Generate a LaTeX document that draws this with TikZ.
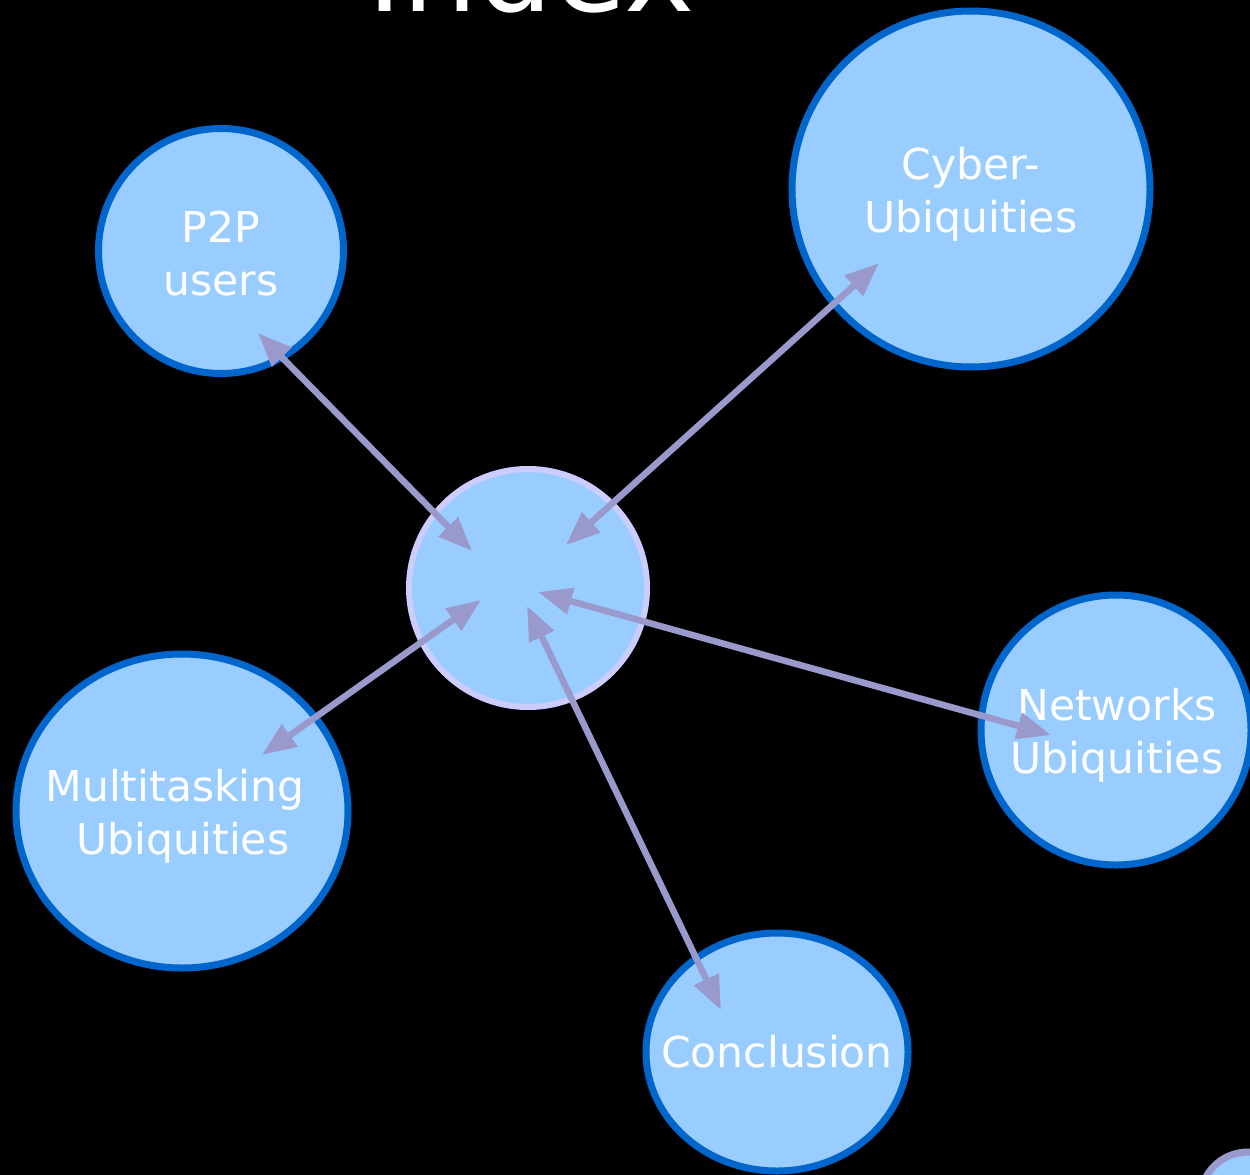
\documentclass[tikz,border=0pt]{standalone}
\usepackage{fontspec}
\setmainfont{DejaVu Sans}
\usetikzlibrary{arrows.meta}
\definecolor{fillblue}{HTML}{99CCFF}
\definecolor{edgeblue}{HTML}{0066CC}
\definecolor{lav}{HTML}{CCCCFF}
\definecolor{arr}{HTML}{9999CC}
\begin{document}
\begin{tikzpicture}[x=1pt,y=-1pt,
  lbl/.style={text=white, font=\fontsize{42.5}{53}\selectfont, align=center},
  link/.style={draw=arr, line width=6.5pt, {Triangle[length=34pt,width=26pt]}-{Triangle[length=34pt,width=26pt]}}]
\fill[black] (0,0) rectangle (1250,1175);
\useasboundingbox (0,0) rectangle (1250,1175);
% title
\node[anchor=base, text=white, font=\fontsize{119}{122}\selectfont, inner sep=0pt] (title) at (531,11) {Index};
% circles
\fill[fillblue] (221,251) ellipse [x radius=122.5, y radius=122.5];
\draw[edgeblue, line width=7pt] (221,251) ellipse [x radius=122.5, y radius=122.5];
\fill[fillblue] (971,189) ellipse [x radius=179, y radius=178];
\draw[edgeblue, line width=7pt] (971,189) ellipse [x radius=179, y radius=178];
\fill[fillblue] (528,588) ellipse [x radius=119, y radius=119];
\draw[lav, line width=6pt] (528,588) ellipse [x radius=119, y radius=119];
\fill[fillblue] (1116,730) ellipse [x radius=135, y radius=135];
\draw[edgeblue, line width=7pt] (1116,730) ellipse [x radius=135, y radius=135];
\fill[fillblue] (182,811) ellipse [x radius=166, y radius=157];
\draw[edgeblue, line width=7pt] (182,811) ellipse [x radius=166, y radius=157];
\fill[fillblue] (777,1052) ellipse [x radius=131, y radius=119];
\draw[edgeblue, line width=7pt] (777,1052) ellipse [x radius=131, y radius=119];
\fill[fillblue] (1248,1200) circle [radius=48];
\draw[arr, line width=7pt] (1248,1200) circle [radius=48];
% labels
\node[lbl] (p2p) at (221,254) {P2P\\users};
\node[lbl] (cyber) at (971,194) {Cyber-\\Ubiquities};
\node[lbl] (net) at (1117,735) {Networks\\Ubiquities};
\node[lbl] (multi) at (175,816) {Multitasking\\\hspace*{16pt}Ubiquities};
\node[lbl] (concl) at (777,1052) {Conclusion};
% arrow ends
\coordinate (p2pA) at (258,333);
\coordinate (p2pB) at (472,551);
\coordinate (cyA) at (879,263);
\coordinate (cyB) at (566,545);
\coordinate (muA) at (262,755);
\coordinate (muB) at (481,600);
\coordinate (neA) at (1051,735);
\coordinate (neB) at (538,592);
\coordinate (coA) at (721,1010);
\coordinate (coB) at (527,606);
\draw[link] (p2pA) -- (p2pB);
\draw[link] (cyA) -- (cyB);
\draw[link] (muA) -- (muB);
\draw[link] (neA) -- (neB);
\draw[link] (coA) -- (coB);
\end{tikzpicture}
\end{document}
